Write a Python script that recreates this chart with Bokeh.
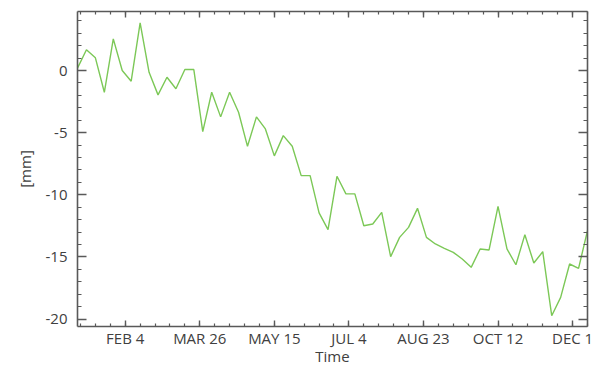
import pandas as pd
from bokeh.plotting import figure
from bokeh.models import (Range1d, FixedTicker, SingleIntervalTicker, LinearAxis,
                          CustomJSTickFormatter)
from bokeh.embed import file_html
from bokeh.resources import INLINE

# ---- data ----
dates = ["2019-01-03", "2019-01-09", "2019-01-15", "2019-01-21", "2019-01-27",
         "2019-02-02", "2019-02-08", "2019-02-14", "2019-02-20", "2019-02-26",
         "2019-03-04", "2019-03-10", "2019-03-16", "2019-03-22", "2019-03-28",
         "2019-04-03", "2019-04-09", "2019-04-15", "2019-04-21", "2019-04-27",
         "2019-05-03", "2019-05-09", "2019-05-15", "2019-05-21", "2019-05-27",
         "2019-06-02", "2019-06-08", "2019-06-14", "2019-06-20", "2019-06-26",
         "2019-07-02", "2019-07-08", "2019-07-14", "2019-07-20", "2019-07-26",
         "2019-08-01", "2019-08-07", "2019-08-13", "2019-08-19", "2019-08-25",
         "2019-08-31", "2019-09-06", "2019-09-12", "2019-09-18", "2019-09-24",
         "2019-09-30", "2019-10-06", "2019-10-12", "2019-10-18", "2019-10-24",
         "2019-10-30", "2019-11-05", "2019-11-11", "2019-11-17", "2019-11-23",
         "2019-11-29", "2019-12-05", "2019-12-11"]
values_mm = [0.19, 1.67, 1.02, -1.75, 2.55, 0.0, -0.86, 3.84, -0.14, -1.96,
             -0.54, -1.47, 0.08, 0.08, -4.91, -1.75, -3.73, -1.75, -3.36, -6.10,
             -3.73, -4.70, -6.87, -5.24, -6.10, -8.46, -8.46, -11.46, -12.81, -8.51,
             -9.93, -9.93, -12.49, -12.35, -11.41, -14.98, -13.43, -12.62, -11.09, -13.43,
             -13.96, -14.31, -14.63, -15.17, -15.84, -14.36, -14.44, -10.93, -14.36, -15.63,
             -13.21, -15.49, -14.58, -19.73, -18.26, -15.57, -15.92, -12.89]
x_tick_dates = ["2019-02-04", "2019-03-26", "2019-05-15", "2019-07-04",
                "2019-08-23", "2019-10-12", "2019-12-01"]
x_minor_dates = pd.date_range("2019-01-05", "2019-12-11", freq="10D")
x_start, x_end = "2019-01-03", "2019-12-11"
y_start, y_end = -20.6, 4.75

FONT = "Open Sans"
TXT = "#404040"
AX = "#595959"


def ms(d):
    return pd.Timestamp(d).value / 1e6


x = pd.to_datetime(dates)

p = figure(width=594, height=368, x_axis_type="datetime",
           output_backend="svg", toolbar_location=None,
           x_range=Range1d(pd.Timestamp(x_start), pd.Timestamp(x_end)),
           y_range=Range1d(y_start, y_end),
           min_border_left=77, min_border_right=7,
           min_border_top=11, min_border_bottom=38)
p.outline_line_color = None
p.xgrid.visible = False
p.ygrid.visible = False
p.background_fill_color = "white"
p.border_fill_color = "white"

p.line(x, values_mm, line_color="#7cc857", line_width=1.4)

xticker = FixedTicker(ticks=[ms(d) for d in x_tick_dates],
                      minor_ticks=[ms(d) for d in x_minor_dates])
yticker = SingleIntervalTicker(interval=5, num_minor_ticks=5)

fmt = CustomJSTickFormatter(code="""
const m = ["JAN","FEB","MAR","APR","MAY","JUN","JUL","AUG","SEP","OCT","NOV","DEC"];
const d = new Date(tick);
return m[d.getUTCMonth()] + " " + d.getUTCDate();
""")
yfmt = CustomJSTickFormatter(code="return String(Math.round(tick));")
blank = CustomJSTickFormatter(code="return '';")


def style(ax, major, minor):
    ax.axis_line_color = AX
    ax.axis_line_width = 1.6
    ax.major_tick_line_color = AX
    ax.minor_tick_line_color = AX
    ax.major_tick_line_width = 1.4
    ax.minor_tick_line_width = 1.2
    ax.major_tick_in = major
    ax.major_tick_out = 0
    ax.minor_tick_in = minor
    ax.minor_tick_out = 0
    ax.major_label_text_font = FONT
    ax.major_label_text_font_size = "15px"
    ax.major_label_text_color = TXT
    ax.axis_label_text_font = FONT
    ax.axis_label_text_font_size = "15px"
    ax.axis_label_text_font_style = "normal"
    ax.axis_label_text_color = TXT


xa = p.xaxis[0]
xa.ticker = xticker
xa.formatter = fmt
style(xa, 6, 3)
xa.axis_label = "Time"
xa.major_label_standoff = 1
xa.axis_label_standoff = -5
xa.major_label_text_line_height = 1.0
xa.axis_label_text_line_height = 1.0

ya = p.yaxis[0]
ya.ticker = yticker
ya.formatter = yfmt
style(ya, 9, 4)
ya.axis_label = "[mm]"
ya.major_label_standoff = 10
ya.axis_label_standoff = 8

top = LinearAxis(ticker=xticker, formatter=blank)
style(top, 6, 3)
top.major_label_standoff = 0
p.add_layout(top, "above")

right = LinearAxis(ticker=yticker, formatter=blank)
style(right, 9, 4)
right.major_label_standoff = 0
p.add_layout(right, "right")

open("out.html", "w").write(file_html(p, INLINE))
